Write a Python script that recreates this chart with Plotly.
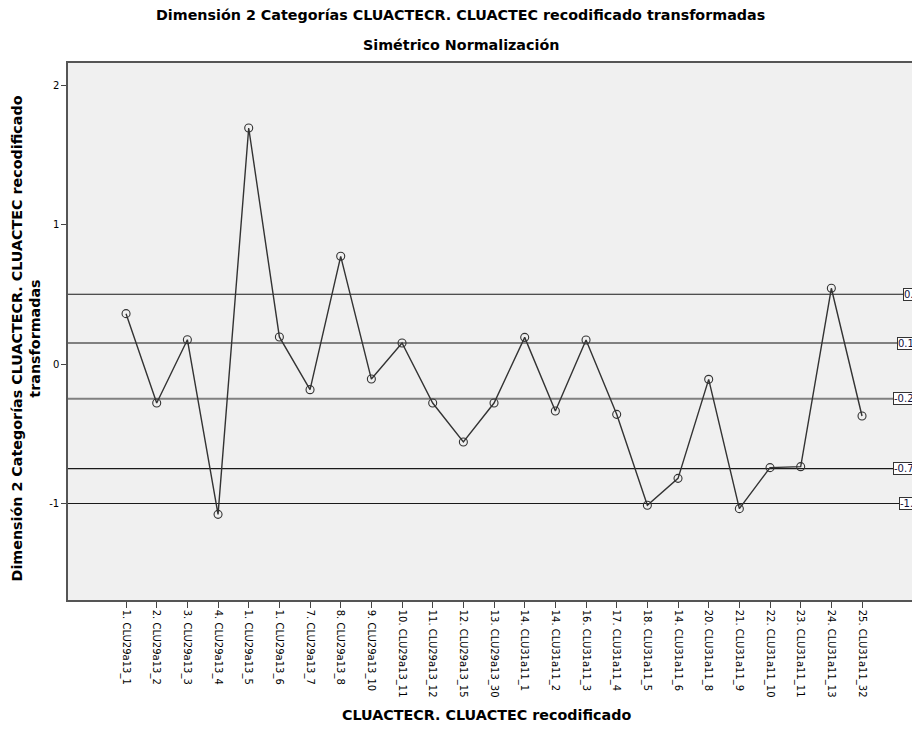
import plotly.graph_objects as go

# categorias del eje x (tal cual aparecen en el grafico)
categorias = [
    "1. CLU29a13_1", "2. CLU29a13_2", "3. CLU29a13_3", "4. CLU29a13_4",
    "1. CLU29a13_5", "1. CLU29a13_6", "7. CLU29a13_7", "8. CLU29a13_8",
    "9. CLU29a13_10", "10. CLU29a13_11", "11. CLU29a13_12", "12. CLU29a13_15",
    "13. CLU29a13_30", "14. CLU31a11_1", "14. CLU31a11_2", "16. CLU31a11_3",
    "17. CLU31a11_4", "18. CLU31a11_5", "14. CLU31a11_6", "20. CLU31a11_8",
    "21. CLU31a11_9", "22. CLU31a11_10", "23. CLU31a11_11", "24. CLU31a11_13",
    "25. CLU31a11_32",
]

# valores transformados dimension 2
dimension2 = [
    0.361, -0.280, 0.174, -1.078, 1.692, 0.194, -0.184, 0.772,
    -0.108, 0.151, -0.280, -0.559, -0.280, 0.191, -0.337, 0.172,
    -0.361, -1.013, -0.820, -0.110, -1.037, -0.743, -0.736, 0.543,
    -0.373,
]

# lineas de referencia y sus etiquetas
ref_valores = [0.5, 0.15, -0.25, -0.75, -1.0]
ref_etiquetas = ["0.5", "0.15", "-0.25", "-0.75", "-1.0"]

y_ticks = [2, 1, 0, -1]

titulo_font = dict(family="DejaVu Sans", size=14.3, color="black")

fig = go.Figure()

fig.add_trace(go.Scatter(
    x=categorias,
    y=dimension2,
    mode="lines+markers",
    line=dict(color="#333333", width=1.4),
    marker=dict(symbol="circle-open", size=8, color="#333333", line=dict(width=1.1)),
    showlegend=False,
))

# las de 0.15 y -0.25 se ven grises y algo mas gruesas
gris = {0.15, -0.25}
for v, lab in zip(ref_valores, ref_etiquetas):
    fig.add_shape(
        type="line", xref="x domain", yref="y",
        x0=0, x1=1, y0=v, y1=v,
        line=dict(color="#808080" if v in gris else "#1a1a1a", width=2 if v in gris else 1.2),
        layer="below",
    )
    # etiqueta recortada en el borde derecho, como en el original
    fig.add_annotation(
        xref="paper", yref="y", x=1, y=v,
        text=lab, showarrow=False,
        xanchor="right", yanchor="middle", xshift=9,
        font=dict(family="DejaVu Sans", size=10, color="#101040"),
        bgcolor="white", bordercolor="#333333", borderwidth=1, borderpad=0,
    )

# titulos
fig.add_annotation(
    xref="paper", yref="paper", x=0.4656, y=1.0, yshift=48,
    text="<b>Dimensión 2 Categorías CLUACTECR. CLUACTEC recodificado transformadas</b>",
    showarrow=False, xanchor="center", yanchor="middle", font=titulo_font,
)
fig.add_annotation(
    xref="paper", yref="paper", x=0.4656, y=1.0, yshift=18,
    text="<b>Simétrico Normalización</b>",
    showarrow=False, xanchor="center", yanchor="middle", font=titulo_font,
)
fig.add_annotation(
    xref="paper", yref="paper", x=0.4964, y=0, yshift=-115,
    text="<b>CLUACTECR. CLUACTEC recodificado</b>",
    showarrow=False, xanchor="center", yanchor="middle", font=titulo_font,
)
fig.add_annotation(
    xref="paper", yref="paper", x=0, y=0.487, xshift=-42,
    text="<b>Dimensión 2 Categorías CLUACTECR. CLUACTEC recodificado<br>transformadas</b>",
    showarrow=False, textangle=-90, xanchor="center", yanchor="middle", font=titulo_font,
)

fig.update_layout(
    width=912, height=729,
    margin=dict(l=68, r=0, t=63, b=129),
    paper_bgcolor="white",
    plot_bgcolor="#f0f0f0",
    showlegend=False,
)
fig.update_xaxes(
    type="category",
    range=[-1.893, 25.63],
    tickangle=90,
    ticks="outside", ticklen=6, tickcolor="#444444",
    tickfont=dict(family="DejaVu Sans", size=10, color="black"),
    showgrid=False, zeroline=False,
    showline=True, linecolor="#555555", linewidth=1.5, mirror=True,
)
fig.update_yaxes(
    range=[-1.692, 2.158],
    tickvals=y_ticks,
    ticktext=[str(t) for t in y_ticks],
    ticks="outside", ticklen=5, tickcolor="#444444",
    tickfont=dict(family="DejaVu Sans", size=10, color="black"),
    showgrid=False, zeroline=False,
    showline=True, linecolor="#555555", linewidth=1.5,
)

# sin margen del body para que la figura ocupe toda la ventana
fig.write_html(
    "out.html",
    config={"displayModeBar": False},
    post_script="document.body.style.margin='0';document.body.style.overflow='hidden';",
)
